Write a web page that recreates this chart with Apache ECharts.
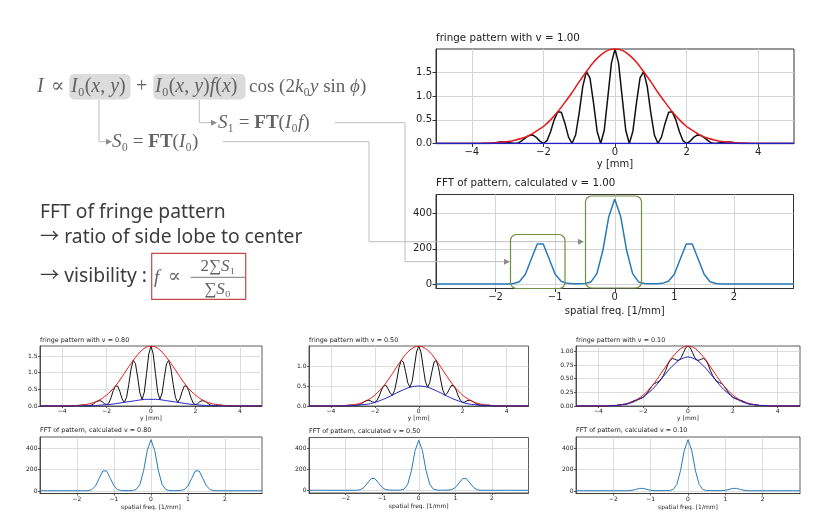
<!DOCTYPE html>
<html><head><meta charset="utf-8">
<script src="https://cdn.jsdelivr.net/npm/echarts@6/dist/echarts.min.js"></script>
<style>html,body{margin:0;padding:0;background:#fff}#c{width:828px;height:518px}</style>
</head><body><div id="c"></div>
<script>
// ---------- data ----------
// envelopes (red / blue) on a coarse y grid [mm]
const fringeX = [-5,-4.5,-4,-3.8,-3.6,-3.4,-3.2,-3,-2.8,-2.6,-2.4,-2.2,-2,-1.8,-1.6,-1.4,-1.2,-1,-0.8,-0.6,-0.4,-0.2,0,0.2,0.4,0.6,0.8,1,1.2,1.4,1.6,1.8,2,2.2,2.4,2.6,2.8,3,3.2,3.4,3.6,3.8,4,4.5,5];
// fringe (black) on a finer y grid [mm]
const fringeXFine = [-5,-4.5,-4,-3.9,-3.8,-3.7,-3.6,-3.5,-3.4,-3.3,-3.2,-3.1,-3,-2.9,-2.8,-2.7,-2.6,-2.5,-2.4,-2.3,-2.2,-2.1,-2,-1.9,-1.8,-1.7,-1.6,-1.5,-1.4,-1.3,-1.2,-1.1,-1,-0.9,-0.8,-0.7,-0.6,-0.5,-0.4,-0.3,-0.2,-0.1,0,0.1,0.2,0.3,0.4,0.5,0.6,0.7,0.8,0.9,1,1.1,1.2,1.3,1.4,1.5,1.6,1.7,1.8,1.9,2,2.1,2.2,2.3,2.4,2.5,2.6,2.7,2.8,2.9,3,3.1,3.2,3.3,3.4,3.5,3.6,3.7,3.8,3.9,4,4.5,5];

const black100 = [0,0, 0,0,0,0,0,0,0.01,0.02,0.03,0.03,0.02,0.01,0,0.01,0.06,0.12,0.17,0.18,0.13,0.05,0,0.06,0.25,0.50,0.67,0.66,0.43,0.14,0,0.18,0.65,1.21,1.52,1.39,0.86,0.26,0,0.28,0.98,1.70,
  2.00, 1.70,0.98,0.28,0,0.26,0.86,1.39,1.52,1.21,0.65,0.18,0,0.14,0.43,0.66,0.67,0.50,0.25,0.06,0,0.05,0.13,0.18,0.17,0.12,0.06,0.01,0,0.01,0.02,0.03,0.03,0.02,0.01,0,0,0,0,0,0, 0,0];
const red100   = [0,0, 0,0,0.01,0.01,0.03,0.04,0.07,0.11,0.17,0.26,0.36,0.50,0.67,0.87,1.08,1.31,1.52,1.72,1.87,1.97, 2.00, 1.97,1.87,1.72,1.52,1.31,1.08,0.87,0.67,0.50,0.36,0.26,0.17,0.11,0.07,0.04,0.03,0.01,0.01,0,0, 0,0];
const blue100  = [0,0, 0,0,0,0,0,0,0,0,0,0,0,0,0,0,0,0,0,0,0,0, 0, 0,0,0,0,0,0,0,0,0,0,0,0,0,0,0,0,0,0,0,0,0, 0,0];

const black080 = [0,0, 0,0,0,0,0,0,0.01,0.02,0.02,0.03,0.02,0.01,0.01,0.02,0.06,0.11,0.15,0.16,0.13,0.07,0.04,0.09,0.25,0.46,0.60,0.60,0.43,0.21,0.11,0.26,0.65,1.11,1.37,1.27,0.86,0.39,0.19,0.42,0.98,1.56,
  1.80, 1.56,0.98,0.42,0.19,0.39,0.86,1.27,1.37,1.11,0.65,0.26,0.11,0.21,0.43,0.60,0.60,0.46,0.25,0.09,0.04,0.07,0.13,0.16,0.15,0.11,0.06,0.02,0.01,0.01,0.02,0.03,0.02,0.02,0.01,0,0,0,0,0,0, 0,0];
const red080   = [0,0, 0,0,0.01,0.01,0.02,0.04,0.06,0.10,0.15,0.23,0.33,0.45,0.60,0.78,0.98,1.18,1.37,1.54,1.68,1.77, 1.80, 1.77,1.68,1.54,1.37,1.18,0.98,0.78,0.60,0.45,0.33,0.23,0.15,0.10,0.06,0.04,0.02,0.01,0.01,0,0, 0,0];
const blue080  = [0,0, 0,0,0,0,0,0,0.01,0.01,0.02,0.03,0.04,0.05,0.07,0.09,0.11,0.13,0.15,0.17,0.19,0.20, 0.20, 0.20,0.19,0.17,0.15,0.13,0.11,0.09,0.07,0.05,0.04,0.03,0.02,0.01,0.01,0,0,0,0,0,0, 0,0];

const black050 = [0,0, 0,0,0,0,0,0,0.01,0.01,0.02,0.02,0.02,0.02,0.02,0.03,0.06,0.10,0.13,0.14,0.13,0.10,0.09,0.14,0.25,0.40,0.50,0.52,0.43,0.32,0.27,0.39,0.65,0.96,1.14,1.10,0.86,0.58,0.47,0.62,0.98,1.35,
  1.50, 1.35,0.98,0.62,0.47,0.58,0.86,1.10,1.14,0.96,0.65,0.39,0.27,0.32,0.43,0.52,0.50,0.40,0.25,0.14,0.09,0.10,0.13,0.14,0.13,0.10,0.06,0.03,0.02,0.02,0.02,0.02,0.02,0.01,0.01,0,0,0,0,0,0, 0,0];
const red050   = [0,0, 0,0,0.01,0.01,0.02,0.03,0.05,0.08,0.13,0.19,0.27,0.38,0.50,0.65,0.81,0.98,1.14,1.29,1.40,1.47, 1.50, 1.47,1.40,1.29,1.14,0.98,0.81,0.65,0.50,0.38,0.27,0.19,0.13,0.08,0.05,0.03,0.02,0.01,0.01,0,0, 0,0];
const blue050  = [0,0, 0,0,0,0,0.01,0.01,0.02,0.03,0.04,0.06,0.09,0.13,0.17,0.22,0.27,0.33,0.38,0.43,0.47,0.49, 0.50, 0.49,0.47,0.43,0.38,0.33,0.27,0.22,0.17,0.13,0.09,0.06,0.04,0.03,0.02,0.01,0.01,0,0,0,0, 0,0];

const black010 = [0,0, 0,0,0,0,0,0.01,0.01,0.01,0.01,0.02,0.02,0.03,0.03,0.04,0.06,0.08,0.10,0.11,0.13,0.14,0.16,0.20,0.25,0.31,0.37,0.41,0.43,0.45,0.49,0.56,0.65,0.76,0.84,0.87,0.86,0.84,0.84,0.89,0.98,1.07,
  1.10, 1.07,0.98,0.89,0.84,0.84,0.86,0.87,0.84,0.76,0.65,0.56,0.49,0.45,0.43,0.41,0.37,0.31,0.25,0.20,0.16,0.14,0.13,0.11,0.10,0.08,0.06,0.04,0.03,0.03,0.02,0.02,0.01,0.01,0.01,0.01,0,0,0,0,0, 0,0];
const red010   = [0,0, 0,0,0,0.01,0.01,0.02,0.04,0.06,0.09,0.14,0.20,0.28,0.37,0.48,0.60,0.72,0.84,0.94,1.03,1.08, 1.10, 1.08,1.03,0.94,0.84,0.72,0.60,0.48,0.37,0.28,0.20,0.14,0.09,0.06,0.04,0.02,0.01,0.01,0,0,0, 0,0];
const blue010  = [0,0, 0,0,0,0.01,0.01,0.02,0.03,0.05,0.08,0.12,0.16,0.23,0.30,0.39,0.49,0.59,0.69,0.77,0.84,0.88, 0.90, 0.88,0.84,0.77,0.69,0.59,0.49,0.39,0.30,0.23,0.16,0.12,0.08,0.05,0.03,0.02,0.01,0.01,0,0,0, 0,0];

const fftFreq = [-3,-2.9,-2.8,-2.7,-2.6,-2.5,-2.4,-2.3,-2.2,-2.1,-2,-1.9,-1.8,-1.7,-1.6,-1.5,-1.4,-1.3,-1.2,-1.1,-1,-0.9,-0.8,-0.7,-0.6,-0.5,-0.4,-0.3,-0.2,-0.1,0,0.1,0.2,0.3,0.4,0.5,0.6,0.7,0.8,0.9,1,1.1,1.2,1.3,1.4,1.5,1.6,1.7,1.8,1.9,2,2.1,2.2,2.3,2.4,2.5,2.6,2.7,2.8,2.9,3];
const fft100 = [2,2,2,2,2,2,2,2,2,2,2,2,2,4,14,56,142,227,227,142,56,17,5,3,3,4,13,60,190,381, 480, 381,190,60,13,4,3,3,5,17,56,142,227,227,142,56,14,4,2,2,2,2,2,2,2,2,2,2,2,2,2];
const fft080 = [2,2,2,2,2,2,2,2,2,2,2,2,2,3,12,47,118,188,188,118,47,13,4,3,3,4,13,60,190,381, 480, 381,190,60,13,4,3,3,4,13,47,118,188,188,118,47,12,3,2,2,2,2,2,2,2,2,2,2,2,2,2];
const fft050 = [2,2,2,2,2,2,2,2,2,2,2,2,2,2,7,28,71,114,114,71,28,8,4,3,3,4,13,60,190,381, 480, 381,190,60,13,4,3,3,4,8,28,71,114,114,71,28,7,2,2,2,2,2,2,2,2,2,2,2,2,2,2];
const fft010 = [2,2,2,2,2,2,2,2,2,2,2,2,2,2,3,6,14,24,24,14,6,3,3,3,3,4,13,60,190,381, 480, 381,190,60,13,4,3,3,3,3,6,14,24,24,14,6,3,2,2,2,2,2,2,2,2,2,2,2,2,2,2];

const fringeXTicks = [-4,-2,0,2,4];
const fftXTicks = [-2,-1,0,1,2];
const fringeYTicks15 = [0,0.5,1,1.5];
const fringeYTicks10 = [0,0.5,1];
const fringeYTicks100 = [0,0.25,0.5,0.75,1];
const fftYTicks = [0,200,400];

// ---------- layout ----------
const BIG = {label:10, title:10.3, name:10, lw:1.5, bw:1, tick:3.5, margin:4};
const SMALL = {label:6, title:6.4, name:6, lw:1, bw:0.8, tick:2, margin:2.5};

const panels = [
  {kind:'fringe', sz:BIG, grid:{left:436,top:49,width:358,height:94.5}, title:'fringe pattern with v = 1.00', titleTop:33, ymax:2, yt:fringeYTicks15, yd:1, gap:16, d:[black100,red100,blue100]},
  {kind:'fft', sz:BIG, grid:{left:436,top:194.5,width:357.5,height:94}, title:'FFT of pattern, calculated v = 1.00', titleTop:178.5, gap:17.5, d:fft100},
  {kind:'fringe', sz:SMALL, grid:{left:40,top:346,width:222,height:60}, title:'fringe pattern with v = 0.80', titleTop:337, ymax:1.8, yt:fringeYTicks15, yd:1, gap:9.5, d:[black080,red080,blue080]},
  {kind:'fft', sz:SMALL, grid:{left:40,top:437,width:222,height:56.5}, title:'FFT of pattern, calculated v = 0.80', titleTop:427.5, gap:10.5, d:fft080},
  {kind:'fringe', sz:SMALL, grid:{left:309,top:346,width:219.5,height:60}, title:'fringe pattern with v = 0.50', titleTop:337, ymax:1.5, yt:fringeYTicks10, yd:1, gap:9.5, d:[black050,red050,blue050]},
  {kind:'fft', sz:SMALL, grid:{left:309,top:437.5,width:219.5,height:55.5}, title:'FFT of pattern, calculated v = 0.50', titleTop:428, gap:10.5, d:fft050},
  {kind:'fringe', sz:SMALL, grid:{left:576,top:346,width:224,height:60}, title:'fringe pattern with v = 0.10', titleTop:337, ymax:1.1, yt:fringeYTicks100, yd:2, gap:9.5, d:[black010,red010,blue010]},
  {kind:'fft', sz:SMALL, grid:{left:576,top:437,width:224,height:56.5}, title:'FFT of pattern, calculated v = 0.10', titleTop:427.5, gap:10.5, d:fft010}
];

const zip = (xs, ys) => xs.map((x, i) => [x, ys[i]]);
const minus = s => String(s).replace('-', '\u2212');
const MPL = 'DejaVu Sans';

const grid = [], xAxis = [], yAxis = [], series = [], title = [];
panels.forEach((p, i) => {
  const s = p.sz;
  grid.push(Object.assign({show:true, borderColor:'#333', borderWidth:s.bw, backgroundColor:'transparent'}, p.grid));
  title.push({text:p.title, left:p.grid.left, top:p.titleTop, padding:0,
    textStyle:{fontFamily:MPL, fontSize:s.title, fontWeight:'normal', color:'#222'}});
  const isF = p.kind === 'fringe';
  const xt = isF ? fringeXTicks : fftXTicks;
  const yt = isF ? p.yt : fftYTicks;
  const lineCommon = {show:true, onZero:false, lineStyle:{color:'#333', width:s.bw}};
  xAxis.push({gridIndex:i, type:'value', min:isF?-5:-3, max:isF?5:3,
    name: isF ? 'y [mm]' : 'spatial freq. [1/mm]', nameLocation:'middle', nameGap:p.gap,
    nameTextStyle:{fontFamily:MPL, fontSize:s.name, color:'#222'},
    axisLine:lineCommon,
    axisTick:{show:true, customValues:xt, length:s.tick, lineStyle:{color:'#333', width:s.bw}},
    axisLabel:{customValues:xt, fontFamily:MPL, fontSize:s.label, color:'#222', margin:s.margin, formatter:v => minus(v)},
    splitLine:{show:true, lineStyle:{color:'#d4d4d4', width:s.bw}}
  });
  yAxis.push({gridIndex:i, type:'value', min:isF?0:-24, max:isF?p.ymax:506,
    axisLine:lineCommon,
    axisTick:{show:true, customValues:yt, length:s.tick, lineStyle:{color:'#333', width:s.bw}},
    axisLabel:{customValues:yt, fontFamily:MPL, fontSize:s.label, color:'#222', margin:s.margin,
      formatter: v => isF ? Number(v).toFixed(p.yd) : String(Math.round(v))},
    splitLine:{show:true, lineStyle:{color:'#d4d4d4', width:s.bw}}
  });
  const base = {type:'line', xAxisIndex:i, yAxisIndex:i, showSymbol:false, symbol:'none', animation:false, clip:true};
  if (isF) {
    series.push(Object.assign({}, base, {data:zip(fringeXFine, p.d[0]), lineStyle:{color:'#111', width:s.lw}, z:2}));
    series.push(Object.assign({}, base, {data:zip(fringeX, p.d[1]), smooth:0.3, lineStyle:{color:'#e3191c', width:s.lw}, z:3}));
    series.push(Object.assign({}, base, {data:zip(fringeX, p.d[2]), smooth:0.3, lineStyle:{color:'#2222c8', width:s.lw}, z:4}));
  } else {
    series.push(Object.assign({}, base, {data:zip(fftFreq, p.d), lineStyle:{color:'#2a7ab8', width:s.lw}, z:2}));
  }
});

// ---------- annotations ----------
const SERIF = "'Liberation Serif','DejaVu Serif',serif";
const FG = '#636363';
const rich = (fs) => ({
  i:{fontFamily:SERIF, fontStyle:'italic', fontSize:fs, fill:FG},
  r:{fontFamily:SERIF, fontSize:fs, fill:FG},
  b:{fontFamily:SERIF, fontWeight:'bold', fontSize:fs, fill:FG}
});
const mtext = (x, y, text, fs, align) => ({type:'text', x, y, z:100,
  style:{text, rich:rich(fs), verticalAlign:'middle', align:align||'left', fontFamily:SERIF, fontSize:fs, fill:FG}});
const LC = '#bdbdbd', AC = '#8c8c8c';
const pline = pts => ({type:'polyline', z:90, shape:{points:pts}, style:{stroke:LC, lineWidth:1, fill:null}});
const arrow = (x, y) => ({type:'polygon', z:91, shape:{points:[[x-6,y-3],[x,y],[x-6,y+3]]}, style:{fill:AC}});
const sans = (x, y, text) => ({type:'text', x, y, z:100, style:{text, fontFamily:"'Noto Sans','Noto Sans CJK KR',sans-serif", fontSize:19.3, fill:'#3c3c3c', verticalAlign:'middle'}});

const graphic = [
  {type:'rect', z:80, shape:{x:69.3, y:74, width:61.2, height:25.5, r:5}, style:{fill:'#dcdcdc'}},
  {type:'rect', z:80, shape:{x:153.3, y:74, width:92.2, height:25.5, r:5}, style:{fill:'#dcdcdc'}},
  mtext(37, 87, '{i|I}', 20),
  mtext(51, 87, '{r|∝}', 20),
  mtext(71, 87, '{i|I}{r|₀(}{i|x}{r|, }{i|y}{r|)}', 20),
  mtext(136, 87, '{r|+}', 20),
  mtext(155, 87, '{i|I}{r|₀(}{i|x}{r|, }{i|y}{r|)}{i|f}{r|(}{i|x}{r|)}', 20),
  mtext(249, 87, '{r|cos (2}{i|k}{r|₀}{i|y}{r| sin }{i|ϕ}{r|)}', 19),
  pline([[99,100],[99,141.7],[106,141.7]]), arrow(112,141.7),
  pline([[199.3,100],[199.3,122.7],[211,122.7]]), arrow(217,122.7),
  mtext(218, 122.7, '{i|S}{r|₁ = }{b|FT}{r|(}{i|I}{r|₀}{i|f}{r|)}', 19),
  mtext(112, 141.7, '{i|S}{r|₀ = }{b|FT}{r|(}{i|I}{r|₀}{r|)}', 19),
  pline([[335,122.7],[405,122.7],[405,261.7],[504,261.7]]), arrow(510,261.7),
  pline([[223,141.7],[369,141.7],[369,241.7],[578,241.7]]), arrow(584,241.7),
  {type:'rect', z:92, shape:{x:510.5, y:234.5, width:54.5, height:54, r:6}, style:{stroke:'#728f45', lineWidth:1.2, fill:null}},
  {type:'rect', z:92, shape:{x:585.5, y:196, width:56, height:92, r:6}, style:{stroke:'#728f45', lineWidth:1.2, fill:null}},
  sans(40, 213, 'FFT of fringe pattern'),
  sans(40, 237.5, '→ ratio of side lobe to center'),
  sans(40, 277, '→ visibility :'),
  {type:'rect', z:95, shape:{x:151.7, y:253.3, width:94, height:46}, style:{stroke:'#c04848', lineWidth:1.2, fill:null}},
  mtext(154, 277.5, '{i|f}', 19),
  mtext(168, 277.5, '{r|∝}', 19),
  mtext(218, 266.5, '{r|2∑}{i|S}{r|₁}', 17, 'center'),
  {type:'line', z:96, shape:{x1:190.7, y1:277.3, x2:245, y2:277.3}, style:{stroke:'#777', lineWidth:1}},
  mtext(217.5, 290, '{r|∑}{i|S}{r|₀}', 17, 'center')
];

const chart = echarts.init(document.getElementById('c'), null, {renderer:'canvas'});
chart.setOption({animation:false, backgroundColor:'#fff', title, grid, xAxis, yAxis, series, graphic});
</script></body></html>
